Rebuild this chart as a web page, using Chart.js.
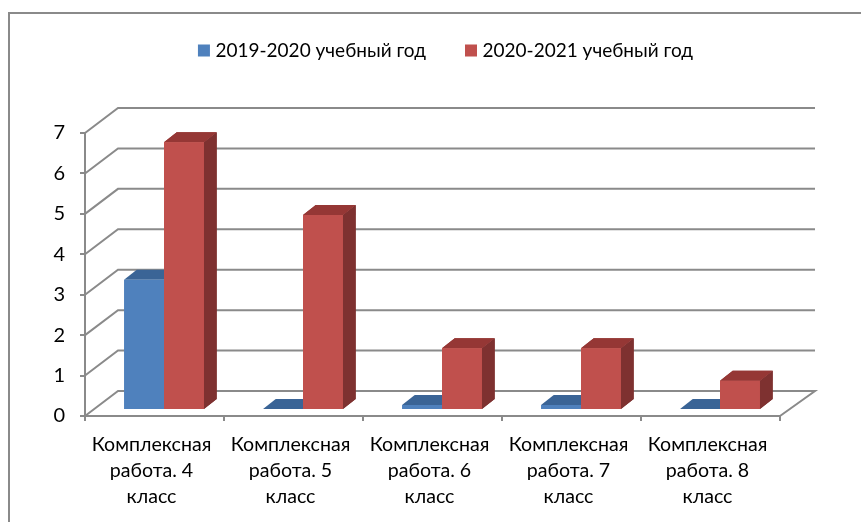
<!DOCTYPE html>
<html><head><meta charset="utf-8">
<style>html,body{margin:0;padding:0;background:#fff;overflow:hidden}#w{position:relative;width:861px;height:522px}</style>
<script src="https://cdn.jsdelivr.net/npm/chart.js@4"></script></head>
<body><div id="w"><canvas id="c"></canvas></div>
<script>
const categories = [
  ['Комплексная','работа. 4','класс'],
  ['Комплексная','работа. 5','класс'],
  ['Комплексная','работа. 6','класс'],
  ['Комплексная','работа. 7','класс'],
  ['Комплексная','работа. 8','класс']];
const series2019 = [3.2, 0, 0.1, 0.1, 0];
const series2020 = [6.6, 4.8, 1.5, 1.5, 0.7];
const seriesNames = ['2019-2020 учебный год', '2020-2021 учебный год'];
const seriesColors = ['#4f81bd', '#c0504d'];
const yTicks = [0,1,2,3,4,5,6,7];

const FONT = 'Lato, "Open Sans"';
const GRID = '#8a8a8a';
const DEPTH_X = 33, DEPTH_Y = 25, BAR_DX = 12.7, BAR_DY = 10, BAR_SHIFT = 9.5;
const faces = [{top:'#3a6496',side:'#335a87'},{top:'#953735',side:'#7e3130'}];

const walls = {
  id:'walls',
  beforeInit(chart){
    const lg = chart.legend, fit = lg.fit, draw = lg.draw;
    lg.fit = function(){ fit.call(this); this.height = 129; };
    lg.draw = function(){
      const c = chart.ctx;
      c.save(); c.translate(57.5,-6); draw.call(this); c.restore();
    };
  },
  beforeDatasetsDraw(chart){
    const {ctx,scales:{y},chartArea:a}=chart;
    ctx.save();
    ctx.strokeStyle=GRID; ctx.lineWidth=2;
    yTicks.forEach(v=>{
      const p=y.getPixelForValue(v);
      ctx.beginPath();
      ctx.moveTo(a.left,p);
      ctx.lineTo(a.left+DEPTH_X,p-DEPTH_Y);
      ctx.lineTo(a.right+DEPTH_X+2,p-DEPTH_Y);
      if(v===0) ctx.lineTo(a.right,p);
      ctx.stroke();
    });
    ctx.restore();
  }
};
function drawFaces(chart,index){
  const {ctx}=chart, f=faces[index];
  chart.getDatasetMeta(index).data.forEach(b=>{
    const l=b.x-b.width/2,r=b.x+b.width/2,t=b.y,bt=b.base;
    ctx.fillStyle=f.side;
    ctx.beginPath();ctx.moveTo(r,t);ctx.lineTo(r+BAR_DX,t-BAR_DY);ctx.lineTo(r+BAR_DX,bt-BAR_DY);ctx.lineTo(r,bt);ctx.closePath();ctx.fill();
    ctx.fillStyle=f.top;
    ctx.beginPath();ctx.moveTo(l,t);ctx.lineTo(l+BAR_DX,t-BAR_DY);ctx.lineTo(r+BAR_DX,t-BAR_DY);ctx.lineTo(r,t);ctx.closePath();ctx.fill();
  });
}
const bars3d = {
  id:'bars3d',
  beforeDatasetDraw(chart,args){
    chart.ctx.save();
    chart.ctx.translate(BAR_SHIFT,0);
    drawFaces(chart,args.index);
  },
  afterDatasetDraw(chart){ chart.ctx.restore(); },
  afterDatasetsDraw(chart){
    const {ctx}=chart;
    ctx.save();
    ctx.translate(BAR_SHIFT,0);
    drawFaces(chart,1);
    chart.getDatasetMeta(1).data.forEach(b=>b.draw(ctx));
    ctx.restore();
  }
};
const frame = {
  id:'frame',
  afterDraw(chart){
    const {ctx}=chart;
    ctx.save();ctx.strokeStyle='#8a8a8a';ctx.lineWidth=2;
    ctx.beginPath();ctx.moveTo(9,522);ctx.lineTo(9,13);ctx.lineTo(861,13);ctx.stroke();
    ctx.restore();
  }
};

new Chart(document.getElementById('c'),{
  type:'bar',
  data:{labels:categories,datasets:[
    {label:seriesNames[0],data:series2019,backgroundColor:seriesColors[0],yAxisID:'yb',categoryPercentage:0.575,barPercentage:1},
    {label:seriesNames[1],data:series2020,backgroundColor:seriesColors[1],yAxisID:'yb',categoryPercentage:0.575,barPercentage:1}
  ]},
  plugins:[walls,bars3d,frame],
  options:{
    responsive:true,maintainAspectRatio:false,animation:false,
    devicePixelRatio:1,
    layout:{padding:{left:0,right:81,top:4,bottom:0}},
    plugins:{
      tooltip:{enabled:false},
      legend:{position:'top',labels:{
        boxWidth:4,boxHeight:4,padding:43,color:'#000',font:{family:FONT,size:19},
        generateLabels(chart){
          return seriesNames.map((n,i)=>({text:n,fillStyle:seriesColors[i],strokeStyle:seriesColors[i],lineWidth:8,fontColor:'#000',datasetIndex:i,hidden:false}));
        }
      }}
    },
    scales:{
      x:{grid:{drawOnChartArea:false,color:GRID,lineWidth:2,tickLength:5,offset:true},border:{color:GRID,width:2},
         ticks:{color:'#000',font:{family:FONT,size:19.6,lineHeight:1.33},maxRotation:0,autoSkip:false,padding:11,labelOffset:-3},
         afterFit(s){s.height=106;}},
      y:{min:0,max:7,position:'left',grid:{drawOnChartArea:false,color:GRID,lineWidth:2,tickLength:5},border:{color:GRID,width:2},
         ticks:{stepSize:1,color:'#000',font:{family:FONT,size:20},padding:15},
         afterFit(s){s.width=85;}},
      yb:{display:false,min:-0.173,max:6.827}
    }
  }
});
</script></body></html>
